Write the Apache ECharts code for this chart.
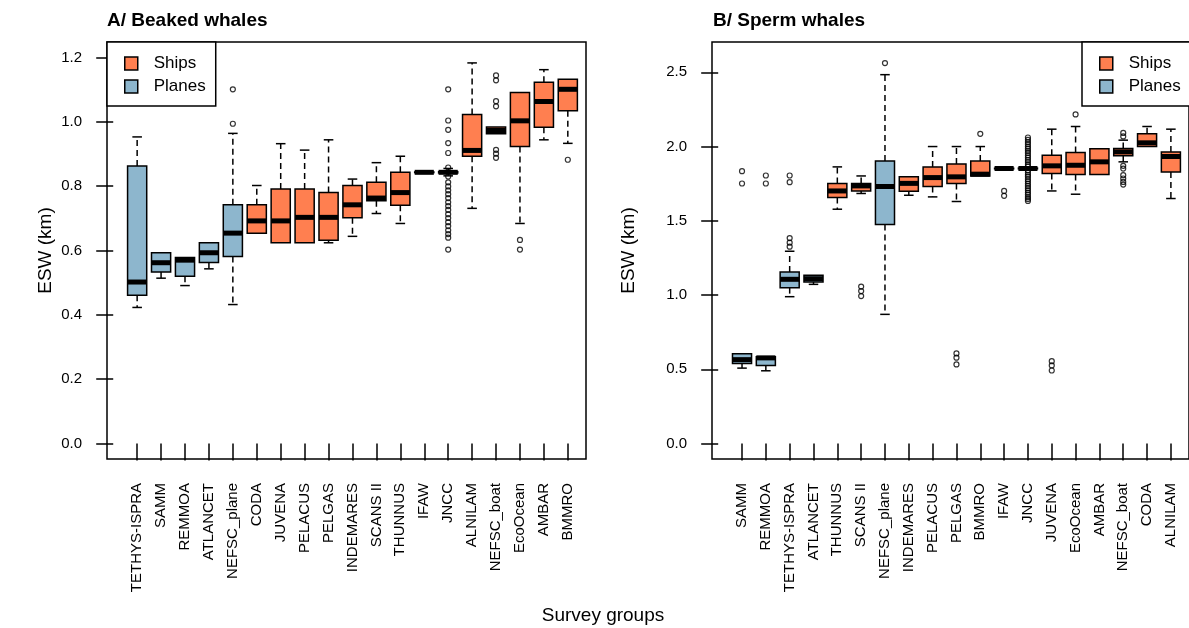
<!DOCTYPE html>
<html>
<head>
<meta charset="utf-8">
<script src="https://cdn.jsdelivr.net/npm/echarts@6/dist/echarts.min.js"></script>
<style>
  html, body { margin: 0; padding: 0; background: #fff; }
  #chart { width: 1189px; height: 628px; }
</style>
</head>
<body>
<div id="chart"></div>
<script>
const ShipColor = '#FF7F50';
const PlaneColor = '#8DB6CD';
const FontName = 'Liberation Sans, Arial, sans-serif';

// A/ Beaked whales
const namesA = ['TETHYS-ISPRA', 'SAMM', 'REMMOA', 'ATLANCET', 'NEFSC_plane', 'CODA', 'JUVENA',
  'PELACUS', 'PELGAS', 'INDEMARES', 'SCANS II', 'THUNNUS', 'IFAW', 'JNCC', 'ALNILAM',
  'NEFSC_boat', 'EcoOcean', 'AMBAR', 'BMMRO'];
const gearA = ['P', 'P', 'P', 'P', 'P', 'S', 'S', 'S', 'S', 'S', 'S', 'S', 'S', 'S', 'S', 'S', 'S', 'S', 'S'];
// min, q1, median, q3, max
const statsA = [
  [0.423, 0.461, 0.502, 0.863, 0.953],
  [0.514, 0.533, 0.562, 0.593, 0.593],
  [0.491, 0.520, 0.570, 0.578, 0.578],
  [0.543, 0.563, 0.593, 0.624, 0.624],
  [0.432, 0.581, 0.654, 0.742, 0.964],
  [0.654, 0.654, 0.692, 0.742, 0.802],
  [0.624, 0.624, 0.692, 0.791, 0.932],
  [0.624, 0.624, 0.703, 0.791, 0.912],
  [0.624, 0.632, 0.703, 0.780, 0.944],
  [0.644, 0.702, 0.742, 0.802, 0.822],
  [0.715, 0.755, 0.763, 0.812, 0.873],
  [0.684, 0.741, 0.780, 0.843, 0.893],
  [0.843, 0.842, 0.843, 0.844, 0.843],
  [0.832, 0.841, 0.843, 0.845, 0.855],
  [0.731, 0.893, 0.911, 1.023, 1.183],
  [0.963, 0.963, 0.973, 0.984, 0.984],
  [0.684, 0.923, 1.003, 1.091, 1.091],
  [0.944, 0.983, 1.063, 1.123, 1.162],
  [0.933, 1.034, 1.101, 1.132, 1.132]
];
// [group number, value]
const outliersA = [
  [5, 0.994], [5, 1.101],
  [14, 1.101], [14, 1.004], [14, 0.975], [14, 0.934], [14, 0.903], [14, 0.858],
  [14, 0.830], [14, 0.812], [14, 0.799], [14, 0.787], [14, 0.775], [14, 0.763],
  [14, 0.750], [14, 0.738], [14, 0.726], [14, 0.713], [14, 0.701], [14, 0.688],
  [14, 0.676], [14, 0.663], [14, 0.651], [14, 0.640], [14, 0.603],
  [16, 1.144], [16, 1.129], [16, 1.064], [16, 1.048], [16, 0.913], [16, 0.901], [16, 0.888],
  [17, 0.633], [17, 0.603],
  [19, 0.882]
];
const yTicksA = [0, 0.2, 0.4, 0.6, 0.8, 1.0, 1.2];

// B/ Sperm whales
const namesB = ['SAMM', 'REMMOA', 'TETHYS-ISPRA', 'ATLANCET', 'THUNNUS', 'SCANS II', 'NEFSC_plane',
  'INDEMARES', 'PELACUS', 'PELGAS', 'BMMRO', 'IFAW', 'JNCC', 'JUVENA', 'EcoOcean', 'AMBAR',
  'NEFSC_boat', 'CODA', 'ALNILAM'];
const gearB = ['P', 'P', 'P', 'P', 'S', 'S', 'P', 'S', 'S', 'S', 'S', 'S', 'S', 'S', 'S', 'S', 'S', 'S', 'S'];
const statsB = [
  [0.508, 0.539, 0.565, 0.605, 0.605],
  [0.490, 0.526, 0.577, 0.585, 0.585],
  [0.989, 1.050, 1.106, 1.155, 1.295],
  [1.072, 1.088, 1.110, 1.133, 1.133],
  [1.578, 1.657, 1.701, 1.751, 1.863],
  [1.684, 1.701, 1.735, 1.751, 1.802],
  [0.870, 1.475, 1.731, 1.902, 2.484],
  [1.672, 1.699, 1.752, 1.796, 1.796],
  [1.661, 1.731, 1.791, 1.863, 2.000],
  [1.630, 1.751, 1.796, 1.883, 2.000],
  [1.802, 1.802, 1.814, 1.902, 2.000],
  [1.852, 1.850, 1.852, 1.854, 1.852],
  [1.850, 1.850, 1.852, 1.855, 1.855],
  [1.701, 1.819, 1.870, 1.942, 2.117],
  [1.679, 1.812, 1.874, 1.960, 2.135],
  [1.812, 1.812, 1.897, 1.985, 1.985],
  [1.897, 1.938, 1.964, 1.987, 2.043],
  [2.000, 2.000, 2.025, 2.086, 2.135],
  [1.650, 1.829, 1.933, 1.964, 2.117]
];
const outliersB = [
  [1, 1.834], [1, 1.751],
  [2, 1.805], [2, 1.751],
  [3, 1.326], [3, 1.353], [3, 1.384], [3, 1.760], [3, 1.805],
  [6, 1.057], [6, 1.027], [6, 0.993],
  [7, 2.562],
  [10, 0.607], [10, 0.578], [10, 0.533],
  [11, 2.086],
  [12, 1.701], [12, 1.668],
  [13, 2.061], [13, 2.045], [13, 2.030], [13, 2.016], [13, 2.000], [13, 1.986], [13, 1.971],
  [13, 1.957], [13, 1.940], [13, 1.925], [13, 1.910], [13, 1.896], [13, 1.880], [13, 1.867],
  [13, 1.840], [13, 1.826], [13, 1.810], [13, 1.797], [13, 1.780], [13, 1.766], [13, 1.750],
  [13, 1.735], [13, 1.720], [13, 1.705], [13, 1.690], [13, 1.676], [13, 1.660], [13, 1.647], [13, 1.634],
  [14, 0.555], [14, 0.526], [14, 0.492],
  [15, 2.216],
  [17, 2.092], [17, 2.068], [17, 1.870], [17, 1.852], [17, 1.807], [17, 1.785], [17, 1.762], [17, 1.744]
];
const yTicksB = [0, 0.5, 1.0, 1.5, 2.0, 2.5];

const idx = namesA.map(function (n, i) { return i + 1; });

function pickRows(stats, gear, g) {
  var rows = [];
  for (var i = 0; i < stats.length; i++) {
    if (gear[i] == g) {
      rows.push([i + 1].concat(stats[i]));
    }
  }
  return rows;
}

// R style box: dashed whiskers, staples, thick median
function renderBox(params, api) {
  var x = api.value(0);
  var lo = api.coord([x, api.value(1)]);
  var q1 = api.coord([x, api.value(2)]);
  var md = api.coord([x, api.value(3)]);
  var q3 = api.coord([x, api.value(4)]);
  var hi = api.coord([x, api.value(5)]);
  var w = api.size([0.8, 0])[0];
  var cx = lo[0];
  var half = w / 2;
  var cap = w / 4;
  var dash = { stroke: '#000', lineWidth: 1.5, lineDash: [6, 4] };
  var solid = { stroke: '#000', lineWidth: 1.5 };
  var kids = [];
  if (hi[1] < q3[1] - 0.5) {
    kids.push({ type: 'line', shape: { x1: cx, y1: q3[1], x2: cx, y2: hi[1] }, style: dash });
    kids.push({ type: 'line', shape: { x1: cx - cap, y1: hi[1], x2: cx + cap, y2: hi[1] }, style: solid });
  }
  if (lo[1] > q1[1] + 0.5) {
    kids.push({ type: 'line', shape: { x1: cx, y1: q1[1], x2: cx, y2: lo[1] }, style: dash });
    kids.push({ type: 'line', shape: { x1: cx - cap, y1: lo[1], x2: cx + cap, y2: lo[1] }, style: solid });
  }
  kids.push({
    type: 'rect',
    shape: { x: cx - half, y: q3[1], width: w, height: Math.max(q1[1] - q3[1], 0.5) },
    style: { fill: api.visual('color'), stroke: '#000', lineWidth: 1.5 }
  });
  kids.push({ type: 'line', shape: { x1: cx - half, y1: md[1], x2: cx + half, y2: md[1] },
    style: { stroke: '#000', lineWidth: 5 } });
  return { type: 'group', children: kids };
}

function boxSeries(name, rows, color, gi) {
  return {
    name: name,
    type: 'custom',
    xAxisIndex: gi,
    yAxisIndex: gi,
    renderItem: renderBox,
    itemStyle: { color: color },
    encode: { x: 0, y: [1, 2, 3, 4, 5] },
    data: rows,
    z: 3
  };
}

function outlierSeries(rows, gi) {
  return {
    name: 'outliers',
    type: 'scatter',
    xAxisIndex: gi,
    yAxisIndex: gi,
    symbol: 'circle',
    symbolSize: 5,
    itemStyle: { color: 'rgba(255,255,255,0)', borderColor: '#000', borderWidth: 1.2 },
    data: rows,
    z: 2
  };
}

function xAxisFor(names, gi) {
  return {
    type: 'value', gridIndex: gi, min: -0.26, max: 19.76,
    splitLine: { show: false }, axisLine: { show: false },
    axisTick: { customValues: idx, length: 17, lineStyle: { color: '#000', width: 1.5 } },
    axisLabel: {
      customValues: idx, rotate: 90, margin: 24, fontSize: 15, color: '#000',
      formatter: function (v) { return names[Math.round(v) - 1]; }
    }
  };
}

function yAxisFor(ticks, min, max, gap, gi) {
  return {
    type: 'value', gridIndex: gi, min: min, max: max,
    splitLine: { show: false }, axisLine: { show: false },
    axisTick: { customValues: ticks, length: 17, lineStyle: { color: '#000', width: 1.5 } },
    axisLabel: {
      customValues: ticks, margin: 25, fontSize: 15, color: '#000',
      formatter: function (v) { return v.toFixed(1); }
    },
    name: 'ESW (km)', nameLocation: 'middle', nameGap: gap,
    nameTextStyle: { fontSize: 19, color: '#000' }
  };
}

function legendFor(left) {
  return {
    orient: 'vertical', left: left, top: 42,
    data: ['Ships', 'Planes'],
    icon: 'rect', itemWidth: 13, itemHeight: 13, itemGap: 6,
    padding: [13, 10, 11, 17],
    borderColor: '#000', borderWidth: 1.5, borderRadius: 0,
    backgroundColor: '#fff',
    itemStyle: { borderColor: '#000', borderWidth: 1.5 },
    textStyle: { fontSize: 17, color: '#000', padding: [0, 0, 0, 11] },
    selectedMode: false
  };
}

const chart = echarts.init(document.getElementById('chart'), null, { renderer: 'canvas' });

const option = {
  animation: false,
  backgroundColor: '#fff',
  textStyle: { fontFamily: FontName },
  title: [
    { text: 'A/ Beaked whales', left: 107, top: 11, padding: 0,
      textStyle: { fontSize: 19, fontWeight: 'bold', color: '#000' } },
    { text: 'B/ Sperm whales', left: 713, top: 11, padding: 0,
      textStyle: { fontSize: 19, fontWeight: 'bold', color: '#000' } },
    { text: 'Survey groups', left: 603, top: 606, padding: 0, textAlign: 'center',
      textStyle: { fontSize: 19, fontWeight: 'normal', color: '#000' } }
  ],
  legend: [legendFor(107), legendFor(1082)],
  grid: [
    { left: 107, top: 42, width: 479, height: 417, show: true, borderColor: '#000', borderWidth: 1.5, backgroundColor: 'transparent' },
    { left: 712, top: 42, width: 479, height: 417, show: true, borderColor: '#000', borderWidth: 1.5, backgroundColor: 'transparent' }
  ],
  xAxis: [xAxisFor(namesA, 0), xAxisFor(namesB, 1)],
  yAxis: [yAxisFor(yTicksA, -0.048, 1.248, 52, 0), yAxisFor(yTicksB, -0.104, 2.704, 74, 1)],
  series: [
    boxSeries('Ships', pickRows(statsA, gearA, 'S'), ShipColor, 0),
    boxSeries('Planes', pickRows(statsA, gearA, 'P'), PlaneColor, 0),
    outlierSeries(outliersA, 0),
    boxSeries('Ships', pickRows(statsB, gearB, 'S'), ShipColor, 1),
    boxSeries('Planes', pickRows(statsB, gearB, 'P'), PlaneColor, 1),
    outlierSeries(outliersB, 1)
  ]
};

chart.setOption(option);
</script>
</body>
</html>
